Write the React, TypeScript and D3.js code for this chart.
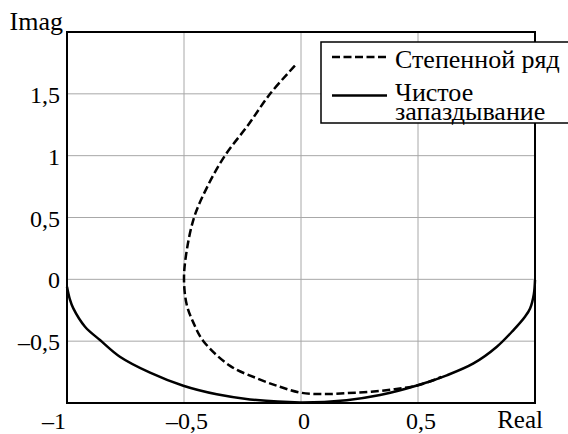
import { useEffect, useRef } from 'react';
import * as d3 from 'd3';

// Чистое запаздывание (solid)
const delayRe = [-1.0, -0.988, -0.973, -0.923, -0.859, -0.774, -0.645, -0.503, -0.36, -0.218, -0.004, 0.195, 0.338, 0.499, 0.623, 0.737, 0.837, 0.908, 0.958, 0.979, 0.995, 1.0];
const delayIm = [-0.06, -0.16, -0.235, -0.383, -0.491, -0.626, -0.755, -0.861, -0.93, -0.971, -0.995, -0.977, -0.936, -0.857, -0.776, -0.68, -0.545, -0.41, -0.3, -0.235, -0.12, -0.005];

// Степенной ряд (dashed)
const seriesRe = [-0.026, -0.132, -0.225, -0.325, -0.4, -0.457, -0.491, -0.5, -0.489, -0.46, -0.417, -0.303, -0.189, -0.09, 0.0, 0.1, 0.2, 0.3, 0.4, 0.5, 0.6];
const seriesIm = [1.728, 1.5, 1.25, 1.0, 0.75, 0.5, 0.2, 0.0, -0.2, -0.35, -0.5, -0.7, -0.8, -0.869, -0.917, -0.928, -0.92, -0.909, -0.888, -0.857, -0.79];

const xTicks = [-1, -0.5, 0, 0.5];
const yTicks = [-0.5, 0, 0.5, 1, 1.5];
const gridX = [-0.5, 0, 0.5];
const gridY = [-0.5, 0, 0.5, 1, 1.5];
const legendLabels = ['Степенной ряд', 'Чистое', 'запаздывание'];

const fmt = (v: number) => (v < 0 ? '–' : '') + String(Math.abs(v)).replace('.', ',');

export default function App() {
  const svgRef = useRef<SVGSVGElement | null>(null);

  useEffect(() => {
    if (!svgRef.current) return;
    const svg = d3.select(svgRef.current);
    svg.selectAll('*').remove();

    const width = 568;
    const height = 434;
    const margin = { top: 32, right: 33, bottom: 31, left: 67 };
    const font = "'Liberation Serif', 'DejaVu Serif', serif";

    svg.attr('width', width).attr('height', height).style('font-family', font);

    const x = d3.scaleLinear().domain([-1, 1]).range([margin.left, width - margin.right]);
    const y = d3.scaleLinear().domain([-1, 2]).range([height - margin.bottom, margin.top]);

    svg.append('rect').attr('width', width).attr('height', height).attr('fill', '#fff');

    // Grid
    svg.append('g')
      .selectAll('line')
      .data(gridX)
      .join('line')
      .attr('x1', (d) => x(d))
      .attr('x2', (d) => x(d))
      .attr('y1', y(-1))
      .attr('y2', y(2))
      .attr('stroke', '#a8a8a8')
      .attr('stroke-width', 1);

    svg.append('g')
      .selectAll('line')
      .data(gridY)
      .join('line')
      .attr('x1', x(-1))
      .attr('x2', x(1))
      .attr('y1', (d) => y(d))
      .attr('y2', (d) => y(d))
      .attr('stroke', '#a8a8a8')
      .attr('stroke-width', 1);

    // Curves
    const solidPts: [number, number][] = delayRe.map((r, i) => [r, delayIm[i]]);
    const dashPts: [number, number][] = seriesRe.map((r, i) => [r, seriesIm[i]]);

    const lineSmooth = d3
      .line<[number, number]>()
      .x((d) => x(d[0]))
      .y((d) => y(d[1]))
      .curve(d3.curveCatmullRom);

    svg.append('path')
      .datum(solidPts)
      .attr('fill', 'none')
      .attr('stroke', '#000')
      .attr('stroke-width', 2.5)
      .attr('stroke-linejoin', 'round')
      .attr('d', lineSmooth);

    svg.append('path')
      .datum(dashPts)
      .attr('fill', 'none')
      .attr('stroke', '#000')
      .attr('stroke-width', 2.5)
      .attr('stroke-dasharray', '8,3.5')
      .attr('d', lineSmooth);

    // Axes box
    svg.append('rect')
      .attr('x', x(-1))
      .attr('y', y(2))
      .attr('width', x(1) - x(-1))
      .attr('height', y(-1) - y(2))
      .attr('fill', 'none')
      .attr('stroke', '#000')
      .attr('stroke-width', 2);

    // Tick labels
    svg.append('g')
      .selectAll('text')
      .data(yTicks)
      .join('text')
      .attr('x', x(-1) - 7)
      .attr('y', (d) => y(d) + 9)
      .attr('text-anchor', 'end')
      .attr('font-size', 24)
      .text((d) => fmt(d));

    svg.append('g')
      .selectAll('text')
      .data(xTicks)
      .join('text')
      .attr('x', (d) => (d === -1 ? x(d) - 1 : x(d) + 3))
      .attr('y', height - 5)
      .attr('text-anchor', (d) => (d === -1 ? 'end' : 'middle'))
      .attr('font-size', 24)
      .text((d) => fmt(d));

    svg.append('text')
      .attr('x', x(1) + 8)
      .attr('y', height - 6)
      .attr('text-anchor', 'end')
      .attr('font-size', 25)
      .text('Real');

    svg.append('text')
      .attr('x', x(-1) - 4)
      .attr('y', y(2) - 2)
      .attr('text-anchor', 'end')
      .attr('font-size', 26)
      .text('Imag');

    // Legend
    const lg = svg.append('g');
    lg.append('rect')
      .attr('x', 321)
      .attr('y', 42)
      .attr('width', 260)
      .attr('height', 81)
      .attr('fill', '#fff')
      .attr('stroke', '#000')
      .attr('stroke-width', 1.5);
    lg.append('line')
      .attr('x1', 332)
      .attr('x2', 387)
      .attr('y1', 57)
      .attr('y2', 57)
      .attr('stroke', '#000')
      .attr('stroke-width', 2.5)
      .attr('stroke-dasharray', '8,3.5');
    lg.append('line')
      .attr('x1', 332)
      .attr('x2', 387)
      .attr('y1', 95.5)
      .attr('y2', 95.5)
      .attr('stroke', '#000')
      .attr('stroke-width', 2.5);
    const legendY = [68, 101, 120];
    lg.selectAll('text')
      .data(legendLabels)
      .join('text')
      .attr('x', 395)
      .attr('y', (_d, i) => legendY[i])
      .attr('font-size', 26)
      .text((d) => d);
  }, []);

  return (
    <div style={{ position: 'absolute', left: 0, top: 0 }}>
      <svg ref={svgRef} style={{ display: 'block' }}></svg>
    </div>
  );
}
